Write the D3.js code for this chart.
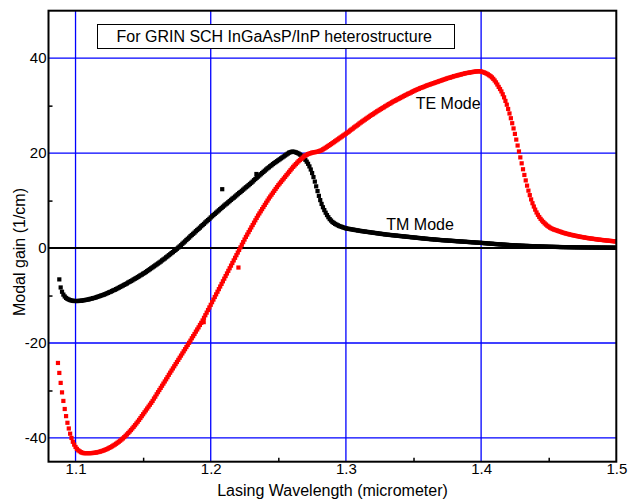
<!DOCTYPE html>
<html>
<head>
<meta charset="utf-8">
<script src="https://cdn.jsdelivr.net/npm/d3@7"></script>
<style>
  html, body { margin: 0; padding: 0; background: #ffffff; }
  svg { display: block; font-family: "Liberation Sans", Arial, Helvetica, sans-serif; }
</style>
</head>
<body>
<svg id="chart" width="638" height="499"></svg>
<script>
// ---- Data ----
const wavelengthStart = 1.087;   // micrometer
const wavelengthStep = 0.001;    // micrometer

// TE mode modal gain (1/cm), one value per wavelength step from 1.087 to 1.500
const teGain = [
  -24.2, -26.3, -28.4, -30.4, -32.2, -33.9, -35.4, -36.8, -38.0, -39.1,
  -40.0, -40.8, -41.4, -41.9, -42.3, -42.6, -42.8, -43.0, -43.1, -43.2,
  -43.2, -43.2, -43.2, -43.2, -43.2, -43.18, -43.16, -43.12, -43.08, -43.02,
  -42.96, -42.88, -42.8, -42.7, -42.6, -42.49, -42.36, -42.23, -42.08, -41.93,
  -41.77, -41.59, -41.41, -41.22, -41.01, -40.8, -40.58, -40.34, -40.1, -39.83,
  -39.55, -39.26, -38.96, -38.65, -38.33, -38.0, -37.66, -37.31, -36.95, -36.58,
  -36.2, -35.8, -35.4, -35.0, -34.6, -34.2, -33.8, -33.4, -33.0, -32.6,
  -32.2, -31.7, -31.3, -30.8, -30.35, -29.9, -29.45, -29.0, -28.55, -28.1,
  -27.65, -27.2, -26.7, -26.25, -25.8, -25.35, -24.9, -24.45, -24.0, -23.55,
  -23.1, -22.65, -22.2, -21.75, -21.3, -20.85, -20.4, -19.95, -19.5, -19.0,
  -18.55, -18.1, -17.6, -17.15, -16.7, -16.2, -15.75, -15.25, -14.7, -14.15,
  -13.6, -13.05, -12.5, -11.95, -11.4, -10.85, -10.3, -9.75, -9.2, -8.65,
  -8.1, -7.55, -7.0, -6.45, -5.9, -5.35, -4.8, -4.25, -3.7, -3.15,
  -2.6, -2.05, -1.5, -0.95, -0.4, 0.15, 0.7, 1.25, 1.8, 2.35,
  2.85, 3.35, 3.85, 4.35, 4.85, 5.35, 5.85, 6.35, 6.85, 7.3,
  7.75, 8.2, 8.65, 9.1, 9.55, 10.0, 10.45, 10.85, 11.25, 11.65,
  12.05, 12.45, 12.85, 13.25, 13.6, 13.95, 14.3, 14.65, 15.0, 15.35,
  15.7, 16.05, 16.4, 16.75, 17.1, 17.4, 17.7, 18.0, 18.3, 18.55,
  18.8, 19.05, 19.3, 19.5, 19.65, 19.8, 19.9, 20.0, 20.1, 20.15,
  20.2, 20.25, 20.3, 20.4, 20.5, 20.6, 20.8, 20.95, 21.14, 21.33,
  21.52, 21.71, 21.9, 22.1, 22.3, 22.5, 22.7, 22.9, 23.1, 23.3,
  23.5, 23.7, 23.9, 24.1, 24.3, 24.5, 24.75, 24.95, 25.15, 25.4,
  25.6, 25.8, 26.0, 26.25, 26.45, 26.65, 26.85, 27.05, 27.25, 27.45,
  27.65, 27.85, 28.05, 28.2, 28.4, 28.6, 28.8, 28.95, 29.15, 29.3,
  29.5, 29.65, 29.85, 30.0, 30.2, 30.35, 30.5, 30.7, 30.85, 31.0,
  31.15, 31.3, 31.45, 31.6, 31.75, 31.9, 32.05, 32.2, 32.35, 32.5,
  32.6, 32.75, 32.9, 33.05, 33.2, 33.3, 33.45, 33.55, 33.7, 33.8,
  33.9, 34.0, 34.15, 34.25, 34.35, 34.45, 34.55, 34.65, 34.75, 34.85,
  34.95, 35.05, 35.15, 35.25, 35.35, 35.45, 35.55, 35.65, 35.75, 35.85,
  35.9, 36.0, 36.1, 36.2, 36.25, 36.35, 36.4, 36.5, 36.55, 36.65,
  36.7, 36.8, 36.85, 36.9, 36.95, 37.0, 37.05, 37.1, 37.15, 37.2,
  37.2, 37.25, 37.25, 37.2, 37.1, 37.0, 36.9, 36.75, 36.6, 36.4,
  36.2, 35.95, 35.65, 35.3, 34.9, 34.45, 33.95, 33.5, 33.0, 32.4,
  31.75, 31.0, 30.2, 29.3, 28.35, 27.35, 26.3, 25.2, 24.05, 22.85,
  21.6, 20.35, 19.1, 17.85, 16.6, 15.4, 14.25, 13.15, 12.1, 11.15,
  10.25, 9.45, 8.75, 8.1, 7.5, 7.0, 6.55, 6.15, 5.8, 5.5,
  5.2, 4.95, 4.7, 4.5, 4.3, 4.15, 4.0, 3.9, 3.8, 3.7,
  3.6, 3.5, 3.4, 3.3, 3.2, 3.12, 3.05, 2.97, 2.9, 2.83,
  2.76, 2.7, 2.64, 2.58, 2.52, 2.46, 2.4, 2.35, 2.3, 2.25,
  2.2, 2.15, 2.1, 2.06, 2.02, 1.98, 1.94, 1.9, 1.86, 1.82,
  1.78, 1.75, 1.72, 1.68, 1.65, 1.62, 1.59, 1.56, 1.53, 1.5,
  1.47, 1.44, 1.41, 1.38
];

// TM mode modal gain (1/cm), same wavelength grid (no point at 1.087)
const tmGain = [
  null, -6.6, -8.3, -9.2, -9.8, -10.2, -10.5, -10.7, -10.85, -10.95,
  -11.05, -11.1, -11.15, -11.15, -11.15, -11.15, -11.1, -11.1, -11.05, -11.0,
  -10.95, -10.9, -10.85, -10.8, -10.7, -10.65, -10.55, -10.5, -10.4, -10.3,
  -10.2, -10.1, -10.0, -9.9, -9.8, -9.7, -9.55, -9.45, -9.3, -9.2,
  -9.05, -8.9, -8.8, -8.65, -8.5, -8.35, -8.2, -8.05, -7.9, -7.75,
  -7.6, -7.45, -7.25, -7.1, -6.95, -6.8, -6.6, -6.45, -6.3, -6.1,
  -5.95, -5.75, -5.6, -5.4, -5.25, -5.05, -4.85, -4.65, -4.45, -4.25,
  -4.05, -3.85, -3.65, -3.45, -3.25, -3.05, -2.85, -2.6, -2.4, -2.2,
  -1.95, -1.75, -1.5, -1.3, -1.05, -0.85, -0.6, -0.4, -0.15, 0.1,
  0.35, 0.6, 0.9, 1.15, 1.4, 1.7, 1.95, 2.2, 2.5, 2.75,
  3.0, 3.25, 3.55, 3.8, 4.05, 4.3, 4.6, 4.85, 5.1, 5.4,
  5.65, 5.9, 6.15, 6.45, 6.7, 6.95, 7.2, 7.45, 7.7, 7.95,
  8.2, 8.45, 8.7, 8.95, 9.2, 9.4, 9.65, 9.9, 10.15, 10.4,
  10.6, 10.85, 11.1, 11.35, 11.6, 11.8, 12.05, 12.3, 12.55, 12.8,
  13.0, 13.25, 13.5, 13.75, 14.0, 14.3, 14.55, 14.8, 15.05, 15.3,
  15.55, 15.8, 16.05, 16.3, 16.55, 16.8, 17.0, 17.25, 17.45, 17.7,
  17.9, 18.1, 18.3, 18.5, 18.7, 18.9, 19.1, 19.3, 19.5, 19.7,
  19.9, 20.1, 20.2, 20.3, 20.3, 20.25, 20.15, 20.05, 19.9, 19.7,
  19.5, 19.25, 18.95, 18.6, 18.2, 17.75, 17.2, 16.55, 15.8, 14.95,
  14.0, 13.0, 12.0, 11.0, 10.1, 9.3, 8.6, 8.0, 7.45, 6.95,
  6.5, 6.1, 5.8, 5.5, 5.3, 5.1, 4.95, 4.8, 4.65, 4.55,
  4.45, 4.35, 4.25, 4.15, 4.1, 4.05, 4.0, 3.95, 3.9, 3.85,
  3.8, 3.75, 3.7, 3.65, 3.6, 3.56, 3.52, 3.48, 3.44, 3.4,
  3.36, 3.32, 3.28, 3.24, 3.2, 3.16, 3.12, 3.08, 3.04, 3.0,
  2.96, 2.92, 2.88, 2.84, 2.81, 2.78, 2.75, 2.72, 2.69, 2.66,
  2.63, 2.6, 2.57, 2.54, 2.51, 2.48, 2.45, 2.42, 2.39, 2.36,
  2.33, 2.3, 2.27, 2.24, 2.21, 2.18, 2.15, 2.12, 2.09, 2.06,
  2.03, 2.0, 1.97, 1.94, 1.92, 1.89, 1.87, 1.84, 1.82, 1.79,
  1.77, 1.74, 1.72, 1.69, 1.67, 1.65, 1.63, 1.61, 1.59, 1.57,
  1.55, 1.53, 1.51, 1.49, 1.47, 1.45, 1.43, 1.41, 1.39, 1.37,
  1.35, 1.33, 1.31, 1.29, 1.27, 1.25, 1.23, 1.21, 1.19, 1.17,
  1.15, 1.13, 1.11, 1.09, 1.07, 1.05, 1.02, 1.0, 0.98, 0.95,
  0.93, 0.91, 0.89, 0.86, 0.84, 0.82, 0.8, 0.78, 0.76, 0.74,
  0.72, 0.7, 0.68, 0.66, 0.64, 0.62, 0.61, 0.59, 0.57, 0.56,
  0.54, 0.53, 0.51, 0.5, 0.49, 0.47, 0.46, 0.45, 0.44, 0.43,
  0.41, 0.4, 0.39, 0.38, 0.37, 0.36, 0.35, 0.34, 0.33, 0.32,
  0.31, 0.3, 0.29, 0.28, 0.27, 0.27, 0.26, 0.25, 0.24, 0.24,
  0.23, 0.22, 0.21, 0.21, 0.2, 0.2, 0.19, 0.19, 0.18, 0.18,
  0.17, 0.17, 0.16, 0.16, 0.15, 0.15, 0.15, 0.14, 0.14, 0.14,
  0.13, 0.13, 0.13, 0.12, 0.12, 0.12, 0.12, 0.11, 0.11, 0.11,
  0.11, 0.1, 0.1, 0.1, 0.1, 0.1, 0.09, 0.09, 0.09, 0.09,
  0.09, 0.08, 0.08, 0.08
];

// Stray points visible off the curves
const teStrayWavelength = [1.2205, 1.1948];
const teStrayGain = [-4.1, -15.6];
const tmStrayWavelength = [1.2085, 1.2338];
const tmStrayGain = [12.4, 15.6];

// Axes
const xTicks = [1.1, 1.2, 1.3, 1.4, 1.5];
const xTickLabels = ["1.1", "1.2", "1.3", "1.4", "1.5"];
const xMinorTicks = [1.15, 1.25, 1.35, 1.45];
const yTicks = [-40, -20, 0, 20, 40];
const yTickLabels = ["-40", "-20", "0", "20", "40"];
const yMinorTicks = [-30, -10, 10, 30];

const titleText = "For GRIN SCH InGaAsP/InP heterostructure";
const xLabel = "Lasing Wavelength (micrometer)";
const yLabel = "Modal gain (1/cm)";
const teLabel = "TE Mode";
const tmLabel = "TM Mode";

// ---- Drawing ----
const svg = d3.select("#chart");
const plotLeft = 48.5, plotRight = 616.3, plotTop = 10.7, plotBottom = 461.7;

const x = d3.scaleLinear().domain([1.08, 1.5]).range([plotLeft, plotRight]);
const y = d3.scaleLinear().domain([-45, 50]).range([plotBottom, plotTop]);

svg.append("rect").attr("width", 638).attr("height", 499).attr("fill", "#ffffff");

// Grid lines
const gridG = svg.append("g");
gridG.selectAll("line.vx")
  .data(xTicks.filter(v => v < 1.5))
  .enter().append("line")
  .attr("x1", d => x(d)).attr("x2", d => x(d))
  .attr("y1", plotTop).attr("y2", plotBottom)
  .attr("stroke", "#0000ff").attr("stroke-width", 1.3);
gridG.selectAll("line.hy")
  .data(yTicks.filter(v => v !== 0))
  .enter().append("line")
  .attr("x1", plotLeft).attr("x2", plotRight)
  .attr("y1", d => y(d)).attr("y2", d => y(d))
  .attr("stroke", "#0000ff").attr("stroke-width", 1.3);
// zero line
gridG.append("line")
  .attr("x1", plotLeft).attr("x2", plotRight)
  .attr("y1", y(0)).attr("y2", y(0))
  .attr("stroke", "#000000").attr("stroke-width", 2);

// Minor ticks (inward)
const minorX = d3.axisBottom(x).tickValues(xMinorTicks).tickSize(-4).tickFormat("");
svg.append("g").attr("transform", `translate(0,${plotBottom})`).call(minorX)
  .call(g => g.select(".domain").remove())
  .call(g => g.selectAll("line").attr("stroke", "#000").attr("stroke-width", 1.5));
const minorY = d3.axisLeft(y).tickValues(yMinorTicks).tickSize(-4).tickFormat("");
svg.append("g").attr("transform", `translate(${plotLeft},0)`).call(minorY)
  .call(g => g.select(".domain").remove())
  .call(g => g.selectAll("line").attr("stroke", "#000").attr("stroke-width", 1.5));

// Tick labels
const xAxis = d3.axisBottom(x).tickValues(xTicks).tickSize(0).tickPadding(2)
  .tickFormat((d, i) => xTickLabels[i]);
svg.append("g").attr("transform", `translate(0,${plotBottom})`).call(xAxis)
  .call(g => g.select(".domain").remove())
  .call(g => g.selectAll("text").attr("font-size", 15).attr("fill", "#000")
    .attr("font-family", "'Liberation Sans', Arial, sans-serif"));
const yAxis = d3.axisLeft(y).tickValues(yTicks).tickSize(0).tickPadding(2)
  .tickFormat((d, i) => yTickLabels[i]);
svg.append("g").attr("transform", `translate(${plotLeft},0)`).call(yAxis)
  .call(g => g.select(".domain").remove())
  .call(g => g.selectAll("text").attr("font-size", 15).attr("fill", "#000")
    .attr("font-family", "'Liberation Sans', Arial, sans-serif"));

// Data points
const sq = 4.2;
function pts(values) {
  return values.map((g, i) => ({ w: wavelengthStart + i * wavelengthStep, g }))
    .filter(d => d.g !== null);
}
const tmPts = pts(tmGain).concat(tmStrayWavelength.map((w, i) => ({ w, g: tmStrayGain[i] })));
const tePts = pts(teGain).concat(teStrayWavelength.map((w, i) => ({ w, g: teStrayGain[i] })));

svg.append("clipPath").attr("id", "plotclip")
  .append("rect").attr("x", plotLeft).attr("y", plotTop)
  .attr("width", plotRight - plotLeft).attr("height", plotBottom - plotTop);

const dataG = svg.append("g").attr("clip-path", "url(#plotclip)");
dataG.append("g").selectAll("rect").data(tmPts).enter().append("rect")
  .attr("x", d => x(d.w) - sq / 2).attr("y", d => y(d.g) - sq / 2)
  .attr("width", sq).attr("height", sq).attr("fill", "#000000");
dataG.append("g").selectAll("rect").data(tePts).enter().append("rect")
  .attr("x", d => x(d.w) - sq / 2).attr("y", d => y(d.g) - sq / 2)
  .attr("width", sq).attr("height", sq).attr("fill", "#ff0000");

// Frame
svg.append("rect")
  .attr("x", plotLeft).attr("y", plotTop)
  .attr("width", plotRight - plotLeft).attr("height", plotBottom - plotTop)
  .attr("fill", "none").attr("stroke", "#000").attr("stroke-width", 2);

// Title box
svg.append("rect").attr("x", 97.5).attr("y", 24.5).attr("width", 357).attr("height", 24)
  .attr("fill", "#ffffff").attr("stroke", "#000").attr("stroke-width", 1);
svg.append("text").attr("x", 116.5).attr("y", 42.3).attr("font-size", 16).attr("fill", "#000")
  .text(titleText);

// Series labels
svg.append("text").attr("x", 415.7).attr("y", 109.3).attr("font-size", 16).attr("fill", "#000").text(teLabel);
svg.append("text").attr("x", 386.3).attr("y", 230).attr("font-size", 16).attr("fill", "#000").text(tmLabel);

// Axis titles
svg.append("text").attr("x", 332.5).attr("y", 496).attr("text-anchor", "middle")
  .attr("font-size", 16).attr("fill", "#000").text(xLabel);
svg.append("text").attr("transform", "translate(25,252) rotate(-90)").attr("text-anchor", "middle")
  .attr("font-size", 16).attr("fill", "#000").text(yLabel);
</script>
</body>
</html>
